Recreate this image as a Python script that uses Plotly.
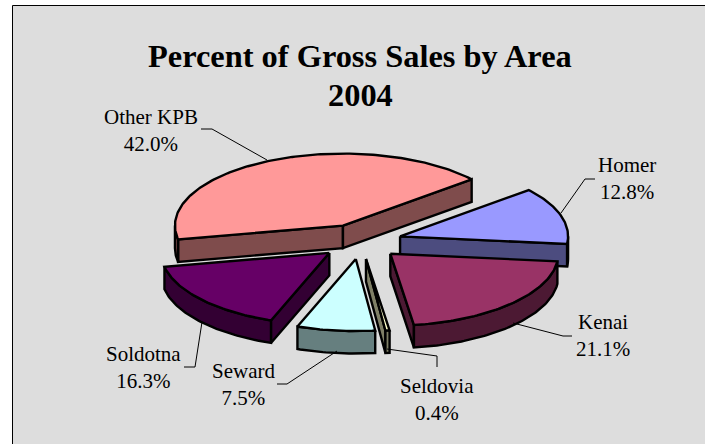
import math
import plotly.graph_objects as go

categories = ["Homer", "Kenai", "Seldovia", "Seward", "Soldotna", "Other KPB"]
percents = [12.8, 21.1, 0.4, 7.5, 16.3, 42.0]
percent_labels = ["12.8%", "21.1%", "0.4%", "7.5%", "16.3%", "42.0%"]
top_colors = ["#9999FF", "#993366", "#FFFFCC", "#CCFFFF", "#660066", "#FF9999"]
wall_colors = ["#4C4C7F", "#4C1933", "#7F7F66", "#667F7F", "#330033", "#7F4C4C"]
title_lines = ["Percent of Gross Sales by Area", "2004"]

# pie geometry (pixels)
CX, CY, RX, RY, DEPTH, EXPLODE, FIRST_ANGLE = 360.7, 241.5, 168, 72, 22.5, 0.245, 50
W, H = 705, 444

label_pos = {
    "Homer": (627, 178), "Kenai": (603, 335), "Seldovia": (437, 399),
    "Seward": (243, 384), "Soldotna": (143, 367), "Other KPB": (151, 130),
}
leaders = {
    "Homer": [(595, 179), (585, 179), (561, 213)],
    "Kenai": [(513, 323), (563, 336), (572, 336)],
    "Seldovia": [(387, 349), (437, 356), (437, 367)],
    "Seward": [(337, 351), (287, 384), (277, 384)],
    "Soldotna": [(202, 322), (195, 367), (184, 367)],
    "Other KPB": [(201, 129), (212, 129), (267, 160)],
}


def pt(theta, ox, oy, dy=0.0):
    t = math.radians(theta)
    return ox + RX * math.sin(t), oy - RY * math.cos(t) + dy


def arc(a, b, ox, oy, dy=0.0):
    n = max(2, int(abs(b - a)) + 2)
    return [pt(a + (b - a) * i / (n - 1), ox, oy, dy) for i in range(n)]


def poly(fig, pts, fill, close=True, width=2.4, color="#000000"):
    if close:
        pts = pts + [pts[0]]
    fig.add_trace(go.Scatter(
        x=[p[0] for p in pts], y=[p[1] for p in pts], mode="lines",
        fill="toself" if fill else None, fillcolor=fill,
        line=dict(color=color, width=width, shape="linear"),
        hoverinfo="skip", showlegend=False,
    ))


fig = go.Figure()
total = sum(percents)
slices = []
angle = FIRST_ANGLE
for i, v in enumerate(percents):
    a = angle
    b = angle + 360 * v / total
    angle = b
    m = math.radians((a + b) / 2)
    ox = CX + EXPLODE * RX * math.sin(m)
    oy = CY - EXPLODE * RY * math.cos(m)
    slices.append((i, a, b, ox, oy))

# back-to-front painting
order = sorted(slices, key=lambda s: s[4])
for i, a, b, ox, oy in order:
    wall, top = wall_colors[i], top_colors[i]
    # radial cut faces facing the viewer
    if math.sin(math.radians(a)) < 0:
        p = pt(a, ox, oy)
        poly(fig, [(ox, oy), p, (p[0], p[1] + DEPTH), (ox, oy + DEPTH)], wall)
    if math.sin(math.radians(b)) > 0:
        p = pt(b, ox, oy)
        poly(fig, [(ox, oy), p, (p[0], p[1] + DEPTH), (ox, oy + DEPTH)], wall)
    # outer wall: only the front half of the rim (90..270 deg)
    lo, hi = max(a, 90), min(b, 270)
    if lo < hi:
        poly(fig, arc(lo, hi, ox, oy) + arc(hi, lo, ox, oy, DEPTH), wall)
    poly(fig, [(ox, oy)] + arc(a, b, ox, oy), top)

# leaders
for name, pts in leaders.items():
    poly(fig, list(pts), None, close=False, width=1)

annotations = []
for name, label in zip(categories, percent_labels):
    x, y = label_pos[name]
    annotations.append(dict(
        x=x, y=y, xref="x", yref="y", showarrow=False, align="center",
        text=f"{name}<br>{label}",
        font=dict(family="Liberation Serif", size=21, color="#000000"),
    ))
for line, y in zip(title_lines, (56, 95)):
    annotations.append(dict(
        x=360, y=y, xref="x", yref="y", showarrow=False, align="center",
        text=f"<b>{line}</b>",
        font=dict(family="Liberation Serif", size=32.4, color="#000000"),
    ))

fig.update_layout(
    width=W, height=H, autosize=False,
    margin=dict(l=0, r=0, t=0, b=0),
    paper_bgcolor="#FFFFFF", plot_bgcolor="#FFFFFF",
    showlegend=False,
    xaxis=dict(range=[0, W], visible=False, fixedrange=True),
    yaxis=dict(range=[H, 0], visible=False, fixedrange=True),
    annotations=annotations,
    shapes=[dict(type="rect", xref="x", yref="y", x0=12.5, y0=5.5, x1=W + 5, y1=H + 5,
                 fillcolor="#DDDDDD", line=dict(color="#000000", width=1), layer="below")],
)
fig.write_html(
    "out.html",
    config={"displayModeBar": False},
    post_script="document.body.style.margin='0';document.body.style.overflow='hidden';",
)
